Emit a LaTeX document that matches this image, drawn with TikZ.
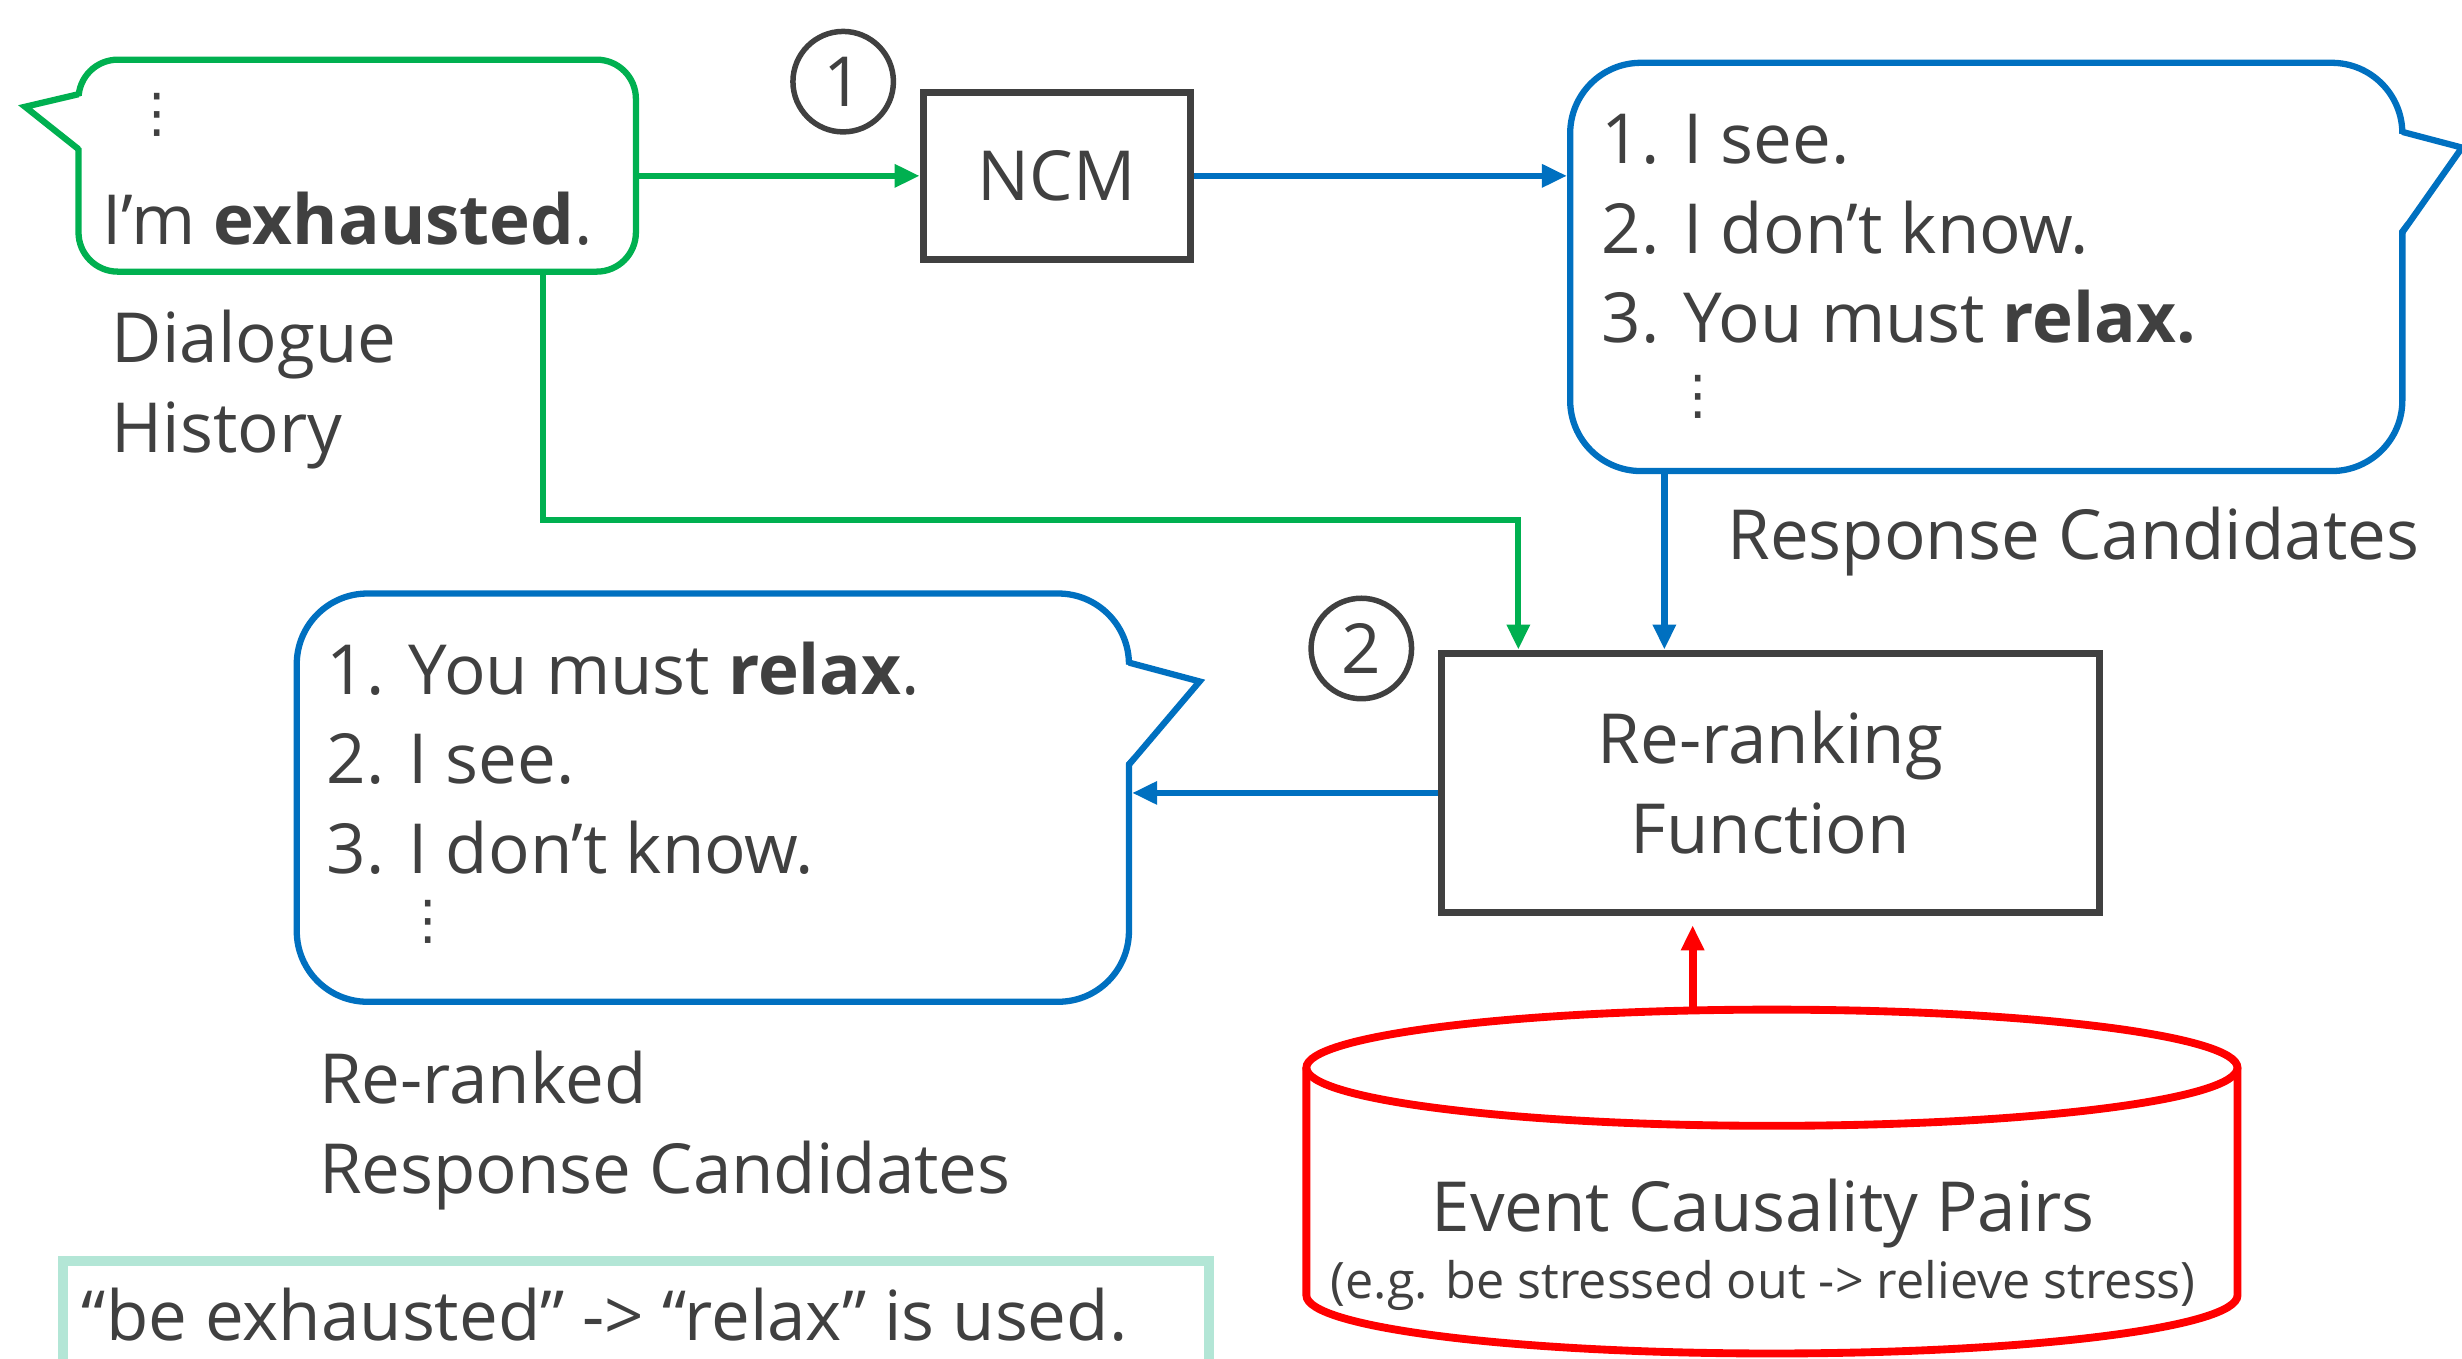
\documentclass[tikz,border=0pt]{standalone}
\usepackage{fontspec}
\setmainfont{Open Sans}
\newfontfamily\dotsfont{DejaVu Sans}
\usetikzlibrary{arrows.meta}
\definecolor{txtgray}{HTML}{404040}
\definecolor{dlggreen}{HTML}{00B050}
\definecolor{candblue}{HTML}{0070C0}
\definecolor{notemint}{HTML}{B3E6D6}

\begin{document}
\begin{tikzpicture}[x=1pt,y=-1pt,
  every node/.style={text=txtgray,font=\fontsize{44}{57}\selectfont,inner sep=0pt},
  bubble/.style={draw,line width=4pt,rounded corners=#1,fill=white},
  box/.style={draw=txtgray,line width=4.5pt,fill=white},
  stepnum/.style={draw=txtgray,line width=3.5pt,circle,minimum size=64pt},
  flow/.style={line width=4pt,-{Triangle[length=16pt,width=14pt]}},
  lbl/.style={anchor=base west,align=left},
  vdot/.style={font=\dotsfont\fontsize{34}{34}\selectfont}]
\useasboundingbox (0,0) rectangle (1568,865);

\node[bubble=25pt,draw=dlggreen,minimum width=355pt,minimum height=135pt] (hist) at (227.5,105.5) {};
\fill[white] (53,61) -- (16,68) -- (53,95) -- cycle;
\draw[dlggreen,line width=4pt] (50,60) -- (16,68) -- (50,95);
\node[vdot] (histdots) at (100,73) {⋮};
\node[lbl] (histlast) at (65,156) {I’m \textbf{exhausted}.};
\node[lbl] (histlbl) at (71,288) {Dialogue\\History};

\node[stepnum] (stepone) at (537,52) {1};
\node[box,minimum width=170pt,minimum height=106pt] (ncm) at (673,112) {NCM};

\node[bubble=45pt,draw=candblue,minimum width=530pt,minimum height=260pt] (cands) at (1265,170) {};
\fill[white] (1527,85) -- (1568,94) -- (1527,148) -- cycle;
\draw[candblue,line width=4pt] (1530,84) -- (1568,94) -- (1530,148);
\node[lbl] (candlist) at (1020,218.4) {1. I see.\\2. I don’t know.\\3. You must \textbf{relax.}};
\node[vdot] (canddots) at (1081.5,253) {⋮};
\node[lbl] (candlbl) at (1100,356.6) {Response Candidates};

\node[stepnum] (steptwo) at (867,413) {2};
\node[box,minimum width=419pt,minimum height=165pt,align=center] (rerank) at (1127.5,498.5) {Re-ranking\\Function};

\node[bubble=45pt,draw=candblue,minimum width=530pt,minimum height=260pt] (reranked) at (454,508) {};
\fill[white] (716,423) -- (764,434) -- (716,487) -- cycle;
\draw[candblue,line width=4pt] (719,422) -- (764,434) -- (719,487);
\node[lbl] (rerankedlist) at (208,556) {1. You must \textbf{relax}.\\2. I see.\\3. I don’t know.};
\node[vdot] (rerankeddots) at (273,587) {⋮};
\node[lbl] (rerankedlbl) at (203,760) {Re-ranked\\Response Candidates};

\draw[red,line width=5pt,fill=white] (832,680) -- (832,825) arc[start angle=180,end angle=360,x radius=296.5pt,y radius=37pt] -- (1425,680);
\draw[red,line width=5pt] (1128.5,680) ellipse[x radius=296.5pt,y radius=37pt];
\node[anchor=base] (pairs) at (1123,784) {Event Causality Pairs};
\node[anchor=base,font=\fontsize{32}{38}\selectfont] (pairsex) at (1123,827) {(e.g. be stressed out -> relieve stress)};

\node[draw=notemint,line width=6pt,minimum width=730pt,minimum height=90pt,anchor=north west] (note) at (37,800) {};
\node[lbl] (notetext) at (52,854) {“be exhausted” -> “relax” is used.};

\coordinate (gbend) at (346,331);
\coordinate (gdrop) at (967,331);
\coordinate (bdrop) at (1060,300);
\coordinate (blevel) at (0,505);
\coordinate (dbtop) at (1078,643);
\draw[flow,dlggreen] (ncm.west -| hist.east) -- (ncm.west);
\draw[flow,candblue] (ncm.east) -- (ncm.east -| cands.west);
\draw[flow,dlggreen] (hist.south -| gbend) -- (gbend) -- (gdrop) -- (gdrop |- rerank.north);
\draw[flow,candblue] (cands.south -| bdrop) -- (bdrop |- rerank.north);
\draw[flow,candblue] (rerank.west |- blevel) -- (reranked.east |- blevel);
\draw[flow,red,line width=5pt,shorten >=6pt] (dbtop) -- (dbtop |- rerank.south);
\end{tikzpicture}
\end{document}
